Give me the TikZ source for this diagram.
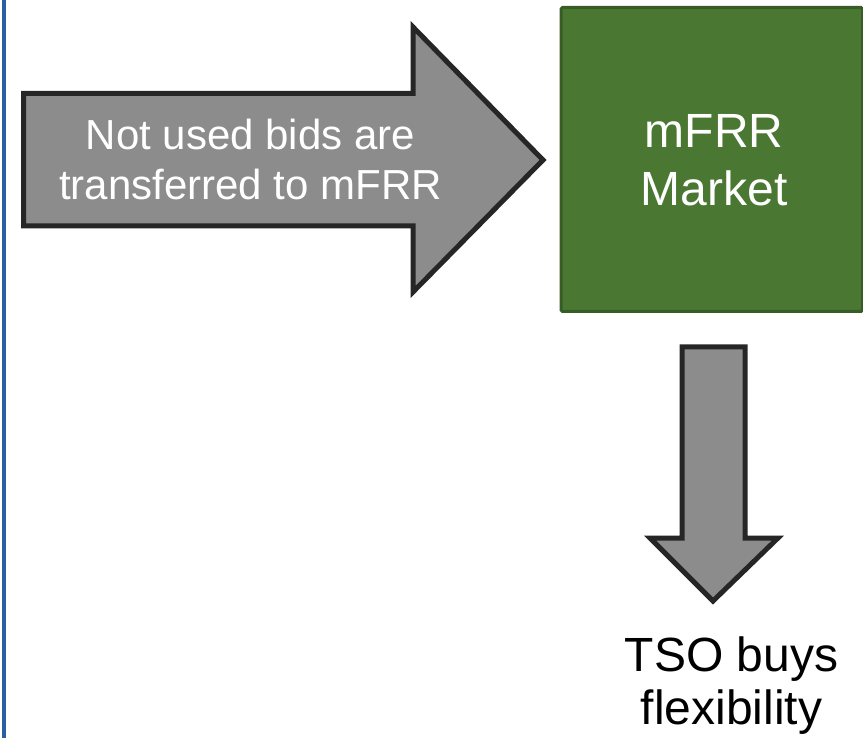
\documentclass[tikz,border=0pt]{standalone}
\usepackage{fontspec}
\setmainfont{Liberation Sans}
\definecolor{arrowfill}{RGB}{140,140,140}
\definecolor{arrowline}{RGB}{38,38,38}
\definecolor{boxfill}{RGB}{74,120,51}
\definecolor{boxline}{RGB}{55,92,38}
\definecolor{sideblue}{RGB}{42,96,162}
\tikzset{
  blockarrow/.style={fill=arrowfill, draw=arrowline, line width=5pt, line join=miter},
  marketbox/.style={fill=boxfill, draw=boxline, line width=3pt, rounded corners=1.5pt},
  whitetext/.style={text=white, align=center, inner sep=0pt},
  blacktext/.style={text=black, align=center, inner sep=0pt},
}
\begin{document}
\begin{tikzpicture}[x=1pt, y=-1pt]
\useasboundingbox (0,0) rectangle (863,738);
% side line
\coordinate (st) at (4,0);
\coordinate (sb) at (4,738);
\draw[sideblue, line width=4pt] (st) -- (sb);
% big right arrow
\draw[blockarrow] (23.5,93.5) -- (413,93.5) -- (413,27) -- (543,160) -- (413,292) -- (413,226) -- (23.5,226) -- cycle;
\node[whitetext, font=\fontsize{42}{50}\selectfont] (bids) at (250.5,159.7) {Not used bids are\\transferred to mFRR};
% market box
\draw[marketbox] (561,7.5) rectangle (862.5,311.5);
\node[whitetext, font=\fontsize{48}{58}\selectfont] (market) at (714,160) {mFRR\\Market};
% down arrow
\draw[blockarrow] (682,347) -- (745,347) -- (745,538) -- (778,538) -- (713,601) -- (650,538) -- (682,538) -- cycle;
\node[blacktext, font=\fontsize{48}{53}\selectfont] (tso) at (731.5,686) {TSO buys\\flexibility};
\end{tikzpicture}
\end{document}
